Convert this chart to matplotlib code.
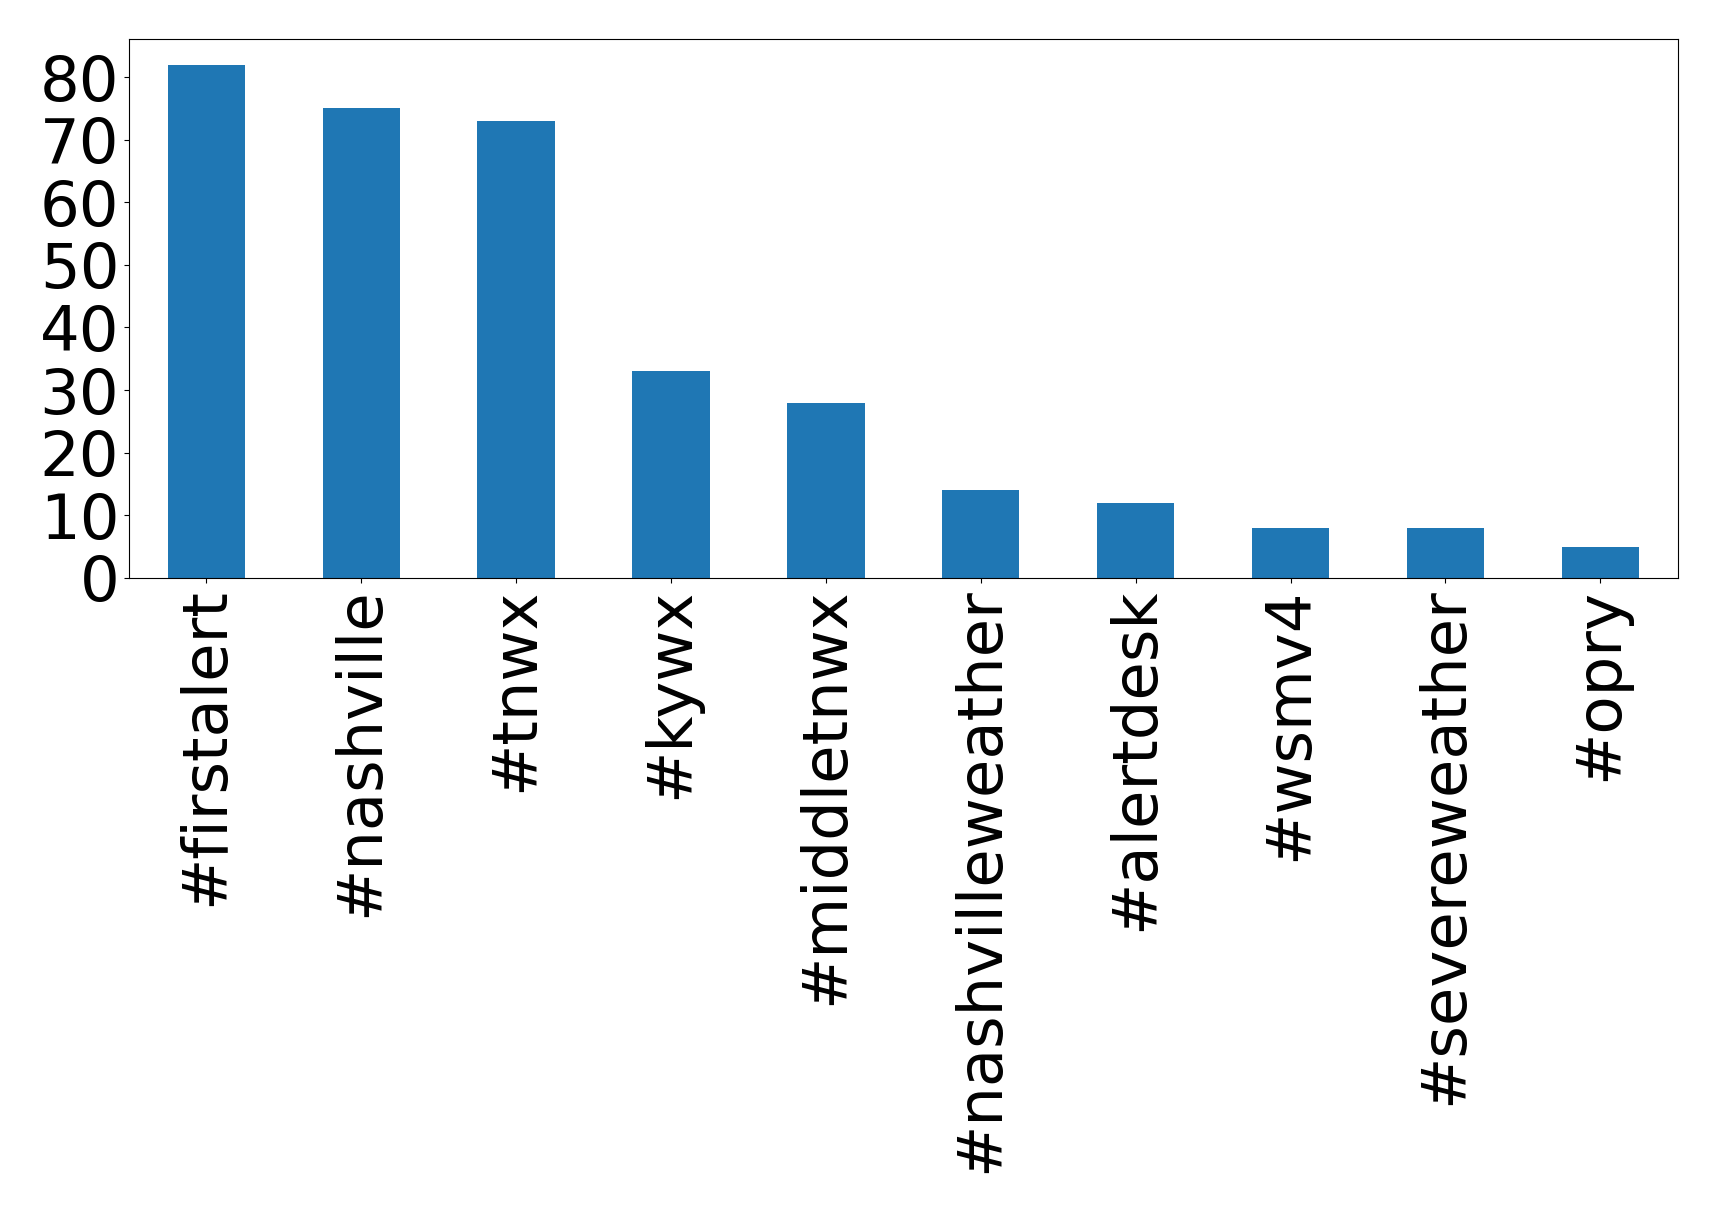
import matplotlib
matplotlib.use("Agg")
import matplotlib.pyplot as plt
import pandas as pd

tags = ['#firstalert', '#nashville', '#tnwx', '#kywx', '#middletnwx',
        '#nashvilleweather', '#alertdesk', '#wsmv4', '#severeweather', '#opry']
counts = [82, 75, 73, 33, 28, 14, 12, 8, 8, 5]

s = pd.Series(counts, index=tags)

fig, ax = plt.subplots(figsize=(17.19, 12.14), dpi=100)
s.plot(kind='bar', ax=ax, color='#1f77b4', fontsize=45)
ax.tick_params(axis='x', labelrotation=90)
plt.subplots_adjust(left=0.075, right=0.976, top=0.968, bottom=0.524)
plt.savefig('out.png', dpi=100)
